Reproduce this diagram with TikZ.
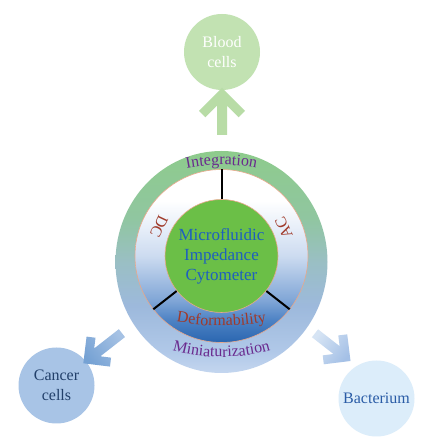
\documentclass[tikz,border=0pt]{standalone}
\usepackage{fontspec}
\setmainfont{Liberation Serif}
\usetikzlibrary{decorations.text,calc}
\definecolor{bloodfill}{HTML}{C2E2B2}
\definecolor{toparrow}{HTML}{B8DCA6}
\definecolor{greenc}{HTML}{6BBF47}
\definecolor{bluetext}{HTML}{1E5FBF}
\definecolor{purp}{HTML}{6A2A8E}
\definecolor{dred}{HTML}{A03A2A}
\definecolor{cancerfill}{HTML}{A8C4E6}
\definecolor{cancertext}{HTML}{22406A}
\definecolor{bactfill}{HTML}{DCEDFA}
\definecolor{bacttext}{HTML}{2A5CA6}
\definecolor{salmon}{HTML}{E9A88A}
\definecolor{cantip}{HTML}{76A2D4}
\definecolor{cantail}{HTML}{A6C2E4}
\definecolor{bactip}{HTML}{A4C0E6}
\definecolor{bactail}{HTML}{D6E4F4}
% ring colours
\definecolor{ringA}{HTML}{8ECB8C}
\definecolor{ringB}{HTML}{90C6A0}
\definecolor{ringC}{HTML}{9ABFC4}
\definecolor{ringD}{HTML}{9DB9DC}
\definecolor{ringE}{HTML}{B0C8E8}
\definecolor{ringF}{HTML}{C4D6EF}
% inner disk colours
\definecolor{diskA}{HTML}{2A66B0}
\definecolor{diskB}{HTML}{4D82C4}
\definecolor{diskC}{HTML}{7FA5D6}
\definecolor{diskD}{HTML}{CCDBF0}
\definecolor{diskE}{HTML}{E8EFF9}
\pgfdeclareverticalshading{ringshade}{100bp}{color(0bp)=(ringF); color(25bp)=(ringF); color(30bp)=(ringE); color(40bp)=(ringD); color(50bp)=(ringC); color(60bp)=(ringB); color(75bp)=(ringA); color(100bp)=(ringA)}
\pgfdeclareverticalshading{diskshade}{100bp}{color(0bp)=(diskA); color(25bp)=(diskA); color(31.5bp)=(diskB); color(37bp)=(diskC); color(50bp)=(diskD); color(58.5bp)=(diskE); color(66bp)=(white); color(100bp)=(white)}
\newcommand\ringfont{\fontsize{16}{18}\selectfont}
\newcommand\chevshape[2]{% #1 = arm, #2 = shaft length
  (0,0) -- (#1,-#1) -- ({#1-6.36},{-#1-6.36}) -- (5,-17.73) -- (5,-#2) -- (-5,-#2) -- (-5,-17.73) -- ({-#1+6.36},{-#1-6.36}) -- (-#1,-#1) -- cycle}
\tikzset{
  bubble/.style={circle, minimum size=76pt, inner sep=0pt, align=center, font=\fontsize{16}{20}\selectfont},
  spoke/.style={line width=2pt, black},
  acdc/.style={font=\fontsize{16}{16}\selectfont, text=dred, inner sep=0pt},
}
\begin{document}
\begin{tikzpicture}[x=1pt,y=1pt]
\useasboundingbox (0,0) rectangle (432,442);
\fill[white] (0,0) rectangle (432,442);
\coordinate (C) at (221.5,186);
% outer ring
\shade[shading=ringshade] (221.5,180) ellipse [x radius=106, y radius=111];
% inner disk
\shade[shading=diskshade, draw=salmon, line width=0.6pt] (C) circle [radius=86.5];
% spokes
\foreach \a/\n in {90/s1,218/s2,322/s3}{
  \coordinate (\n i) at ($(C)+(\a:56.5)$);
  \coordinate (\n o) at ($(C)+(\a:86.5)$);
  \draw[spoke] (\n i) -- (\n o);
}
% green centre
\node[circle, fill=greenc, draw=salmon, line width=0.6pt, minimum size=113pt, inner sep=0pt,
  align=center, text=bluetext, font=\fontsize{17}{20}\selectfont] (core) at (C)
  {Microfluidic\\Impedance\\Cytometer};
% AC / DC
\node[acdc, rotate=244.7] (dc) at ($(C)+(154.7:69)$) {DC};
\node[acdc, rotate=114.5] (ac) at ($(C)+(24.5:68.5)$) {AC};
% curved texts
\path[decorate, decoration={text along path, text={|\ringfont|Integration}, text align=center, text color=purp}]
  ($(221.5,97)+(105:180)$) arc[start angle=105, end angle=75, radius=180];
\path[decorate, decoration={text along path, text={|\ringfont|Miniaturization}, text align=center, text color=purp}]
  ($(221.5,265)+(250:180)$) arc[start angle=250, end angle=290, radius=180];
\path[decorate, decoration={text along path, text={|\ringfont|Deformability}, text align=center, text color=dred}]
  ($(221.5,366)+(258:250)$) arc[start angle=258, end angle=282, radius=250];
% outer bubbles
\node[bubble, fill=bloodfill, text=white] (blood) at (222,390) {Blood\\cells};
\node[bubble, fill=cancerfill, text=cancertext] (cancer) at (56.5,56.5) {Cancer\\cells};
\node[bubble, fill=bactfill, text=bacttext] (bact) at (376.5,43.5) {Bacterium};
% arrows
\begin{scope}[shift={(222,354)}]
  \fill[toparrow] \chevshape{23}{47};
\end{scope}
\begin{scope}[shift={(83.3,78.7)}, rotate=128]
  \shade[top color=cantip, bottom color=cantail, shading angle=128] \chevshape{19}{49};
\end{scope}
\begin{scope}[shift={(350.5,81)}, rotate=232]
  \shade[top color=bactip, bottom color=bactail, shading angle=232] \chevshape{19}{45};
\end{scope}
\end{tikzpicture}
\end{document}
